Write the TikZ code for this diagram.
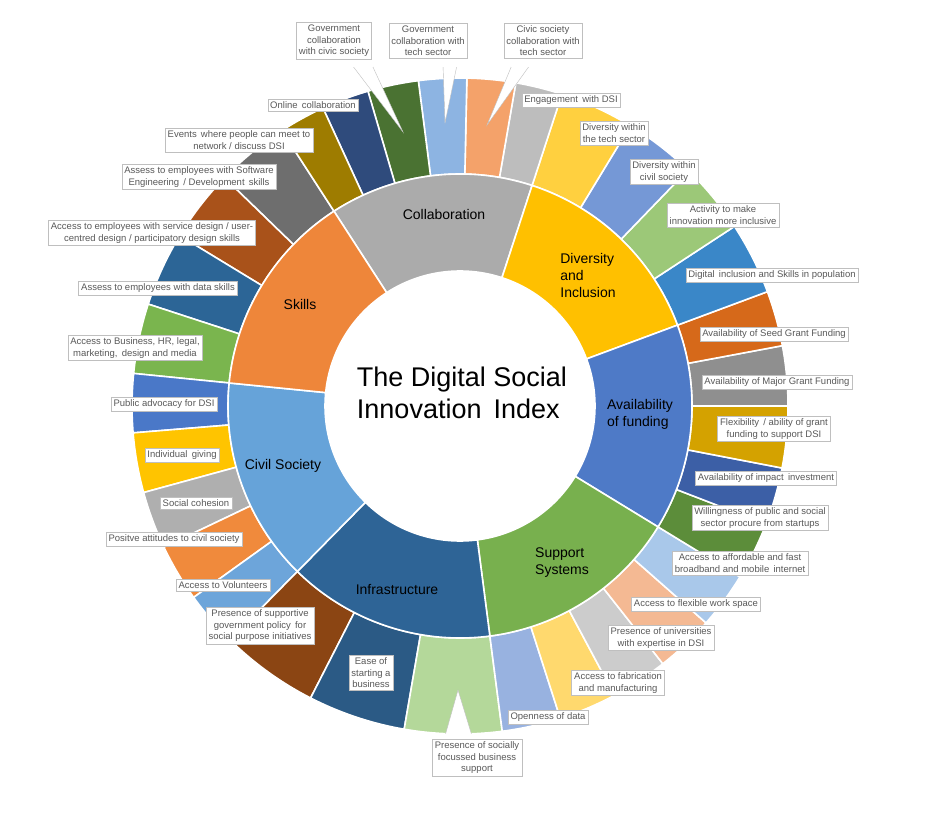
\documentclass[tikz,border=0pt]{standalone}
\usepackage{fontspec}
\setmainfont{Liberation Sans}
\definecolor{tx}{HTML}{595959}
\definecolor{bd}{HTML}{BFBFBF}
\newcommand\seg[5]{\definecolor{tmpc}{HTML}{#5}\fill[fill=tmpc,draw=white,line width=1.6pt,shift={(460,433)}] (#1:#3) arc[start angle=#1,end angle=#2,radius=#3] -- (#2:#4) arc[start angle=#2,end angle=#1,radius=#4] -- cycle;}
\newcommand\oseg[3]{\seg{#1}{#2}{232}{328}{#3}}
\newcommand\iseg[3]{\seg{#1}{#2}{135}{232}{#3}}
\tikzset{lbl/.style={draw=bd,fill=white,text=tx,align=center,inner sep=2.5pt,font=\fontsize{9.5}{11.5}\selectfont},
 inl/.style={text=black,align=left,font=\fontsize{14}{17}\selectfont},
 ptr/.style={draw=bd,fill=white}}
\begin{document}
\begin{tikzpicture}[x=1pt,y=1pt]
\useasboundingbox[fill=white] (0,0) rectangle (936,839);
% outer ring
\oseg{122.9}{135.9}{6E6E6E}
\oseg{135.9}{148.7}{A9521A}
\oseg{148.7}{161.9}{2C6596}
\oseg{161.9}{174.3}{7AB54E}
\oseg{174.3}{184.7}{4A78C8}
\oseg{184.7}{195.3}{FFC400}
\oseg{195.3}{205.5}{AFAFAF}
\oseg{205.5}{215.7}{F08A3C}
\oseg{215.7}{225.5}{6DA5DA}
\oseg{225.5}{242.9}{8B4513}
\oseg{242.9}{260.2}{2B5A85}
\oseg{260.2}{277.4}{B4D89A}
\oseg{277.4}{287.8}{98B2E0}
\oseg{287.8}{298.1}{FFD96E}
\oseg{298.1}{308.2}{CCCCCC}
\oseg{308.2}{318.6}{F4B993}
\oseg{318.6}{328.6}{A9C8EA}
\oseg{328.6}{338.9}{5C8D3A}
\oseg{338.9}{349.1}{3C5FA6}
\oseg{349.1}{360}{D4A200}
\oseg{0}{10.6}{8F8F8F}
\oseg{10.6}{20.4}{D6691A}
\oseg{20.4}{33.2}{3A87C8}
\oseg{33.2}{46}{9CC878}
\oseg{46}{58.7}{7598D6}
\oseg{58.7}{71.9}{FFD03F}
\oseg{71.9}{80.2}{BDBDBD}
\oseg{80.2}{88.8}{F4A26A}
\oseg{88.8}{97.3}{8DB4E2}
\oseg{97.3}{106.3}{4A7232}
\oseg{106.3}{114.7}{2F4B7C}
\oseg{114.7}{122.9}{9E7C00}
% inner ring
\iseg{71.9}{122.9}{ABABAB}
\iseg{20.4}{71.9}{FFC000}
\iseg{-31.4}{20.4}{4E7AC7}
\iseg{277.4}{328.6}{78B04E}
\iseg{225.5}{277.4}{2E6496}
\iseg{174.3}{225.5}{66A3D9}
\iseg{122.9}{174.3}{EE863A}
% inner labels
\node[inl,align=center] (lcol) at (444,625) {Collaboration};
\node[inl] (ldiv) at (588,564) {Diversity\\and\\Inclusion};
\node[inl] (lav) at (640,425) {Availability\\of funding};
\node[inl] (lsup) at (562,276) {Support\\Systems};
\node[inl] (linf) at (397,250) {Infrastructure};
\node[inl] (lciv) at (283,373) {Civil Society};
\node[inl] (lsk) at (300,535) {Skills};
\node[align=left,font=\fontsize{27}{32}\selectfont] (title) at (462,446) {The Digital Social\\Innovation\, Index};
% callout labels
\node[lbl] (gc1) at (334,798) {Government\\collaboration\\with civic society};
\node[lbl] (gc2) at (428,798) {Government\\collaboration with\\tech sector};
\node[lbl] (gc3) at (543,798) {Civic society\\collaboration with\\tech sector};
\node[lbl] (soc) at (477,81) {Presence of socially\\focussed business\\support};
\coordinate (t1) at (403,707);
\coordinate (t2) at (445,716);
\coordinate (t3) at (487,714);
\coordinate (t4) at (458,149);
\filldraw[ptr] (352,774) -- (t1) -- (372,774);
\filldraw[ptr] (443,774) -- (t2) -- (457,774);
\filldraw[ptr] (512,774) -- (t3) -- (530,774);
\filldraw[ptr] (445,103) -- (t4) -- (472,103);
\fill[white] (351,775) rectangle (373,772);
\fill[white] (442,775) rectangle (458,772);
\fill[white] (511,775) rectangle (531,772);
\fill[white] (444,102) rectangle (473,105);
% labels
\node[lbl] (eng) at (571,739) {Engagement\, with DSI};
\node[lbl] (onl) at (313,734) {Online\, collaboration};
\node[lbl] (evt) at (239,699) {Events\, where people can meet to\\network / discuss DSI};
\node[lbl] (sof) at (199,662) {Assess to employees with Software\\Engineering\, / Development\, skills};
\node[lbl] (ser) at (152,606) {Access to employees with service design / user-\\centred design / participatory design skills};
\node[lbl] (dat) at (158,551) {Assess to employees with data skills};
\node[lbl] (bus) at (135,491) {Access to Business, HR, legal,\\marketing,\, design and media};
\node[lbl] (pub) at (164,435) {Public advocacy for DSI};
\node[lbl] (ind) at (182,384) {Individual\, giving};
\node[lbl] (coh) at (196,336) {Social cohesion};
\node[lbl] (pos) at (174,300) {Positve attitudes to civil society};
\node[lbl] (vol) at (223,254) {Access to Volunteers};
\node[lbl] (pol) at (260,213) {Presence of supportive\\government policy\, for\\social purpose initiatives};
\node[lbl] (eas) at (371,166) {Ease of\\starting a\\business};
\node[lbl] (opn) at (548,122) {Openness of data};
\node[lbl] (fab) at (618,156) {Access to fabrication\\and manufacturing};
\node[lbl] (uni) at (661,201) {Presence of universities\\with expertise in DSI};
\node[lbl] (fws) at (696,235) {Access to flexible work space};
\node[lbl] (bro) at (740,276) {Access to affordable and fast\\broadband and mobile\, internet};
\node[lbl] (wil) at (760,321) {Willingness of public and social\\sector procure from startups};
\node[lbl] (imp) at (766,361) {Availability of impact\, investment};
\node[lbl] (flx) at (774,410) {Flexibility\, / ability of grant\\funding to support DSI};
\node[lbl] (maj) at (777,457) {Availability of Major Grant Funding};
\node[lbl] (sed) at (774,505) {Availability of Seed Grant Funding};
\node[lbl] (dig) at (772,564) {Digital\, inclusion and Skills in population};
\node[lbl] (act) at (723,624) {Activity to make\\innovation more inclusive};
\node[lbl] (dvc) at (664,667) {Diversity within\\civil society};
\node[lbl] (dvt) at (614,706) {Diversity within\\the tech sector};
\end{tikzpicture}
\end{document}
